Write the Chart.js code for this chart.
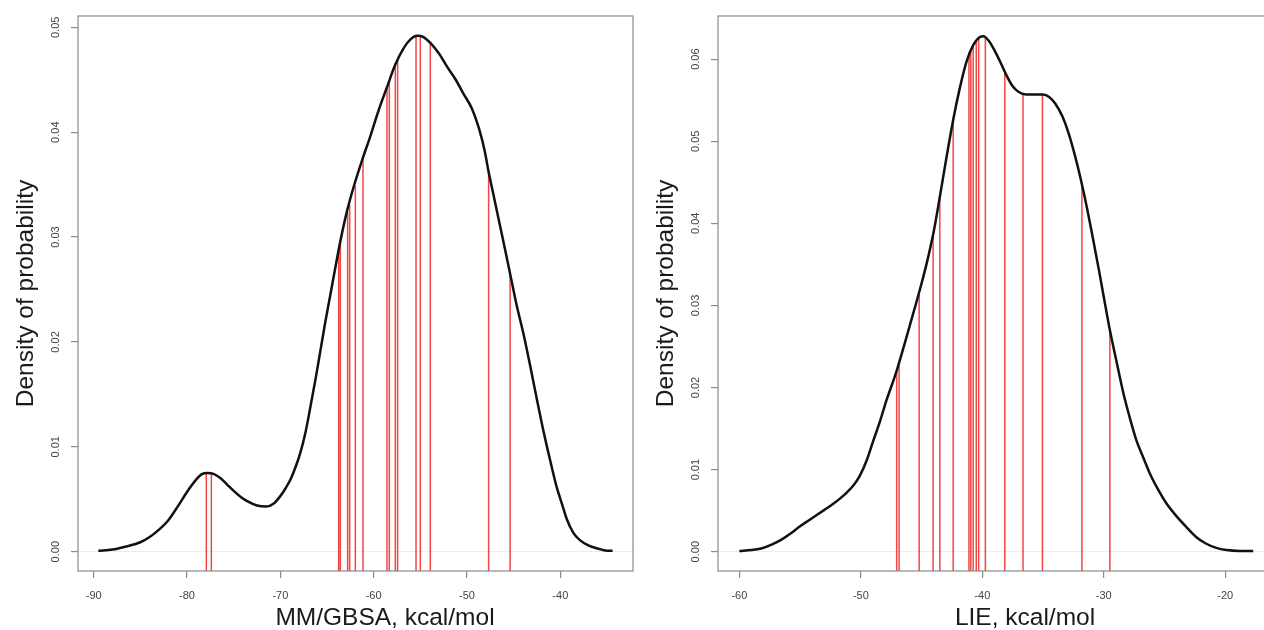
<!DOCTYPE html>
<html>
<head>
<meta charset="utf-8">
<title>Density of probability: MM/GBSA and LIE</title>
<script src="https://cdn.jsdelivr.net/npm/chart.js@4/dist/chart.umd.min.js"></script>
<style>
  html, body { margin: 0; padding: 0; background: #fff; overflow: hidden; }
  #wrap { position: relative; width: 1264px; height: 630px; overflow: hidden; }
  canvas { position: absolute; top: 0; }
  #left { left: 0; }
  #right { left: 640px; }
</style>
</head>
<body>
<div id="wrap">
  <canvas id="left" width="640" height="630"></canvas>
  <canvas id="right" width="640" height="630"></canvas>
</div>
<script>
// ---- MM/GBSA panel ----
const mmgbsaX = [-89.5, -88, -86.5, -85, -84, -83, -82, -81, -80, -79, -78.4, -77.8, -77.1, -76.4, -75.7, -75,
  -74.2, -73.5, -72.5, -71.5, -70.7, -70, -69.4, -68.9, -68.4, -67.9, -67.3, -66.8, -66.2, -65.7, -65.2, -64.6,
  -64, -63.5, -62.85, -62.14, -61.25, -60.36, -59.5, -58.57, -57.7, -56.8, -56, -55.35, -54.7, -53.9, -53, -52.1,
  -51.2, -50.4, -49.5, -48.6, -48.1, -47.7, -47.2, -46.8, -46.2, -45.4, -44.7, -43.9, -43.2, -42.5, -41.9,
  -41.4, -40.9, -40.4, -39.8, -39.3, -38.6, -37.9, -37, -36, -35, -34.4];
const mmgbsaDensity = [0.0001, 0.0002, 0.0005, 0.0009, 0.0014, 0.0021, 0.0030, 0.0043, 0.0057, 0.0069, 0.0074,
  0.0075, 0.0074, 0.0070, 0.0064, 0.0058, 0.0052, 0.0048, 0.0044, 0.0043, 0.0046, 0.0053, 0.0061, 0.0069,
  0.0080, 0.0093, 0.0114, 0.0137, 0.0166, 0.0192, 0.0218, 0.0247, 0.0276, 0.0299, 0.0325, 0.0348, 0.0373,
  0.0396, 0.0420, 0.0443, 0.0464, 0.0480, 0.0489, 0.0492, 0.0491, 0.0485, 0.0475, 0.0462, 0.0450, 0.0437,
  0.0423, 0.0400, 0.0382, 0.0363, 0.0342, 0.0325, 0.0300, 0.0266, 0.0236, 0.0206, 0.0176, 0.0145, 0.0119,
  0.0099, 0.0080, 0.0062, 0.0045, 0.0031, 0.0018, 0.0011, 0.0006, 0.0003, 0.0001, 0.0001];
const mmgbsaSamples = [-77.93, -77.39, -63.75, -63.57, -62.79, -62.57, -61.96, -61.14, -58.57, -58.32, -57.68,
  -57.43, -55.46, -55.0, -53.93, -47.68, -45.38];
const mmgbsaSampleHeights = [0.0075, 0.0075, 0.0287, 0.0296, 0.0324, 0.0331, 0.0349, 0.0374, 0.0443, 0.0449,
  0.0466, 0.0470, 0.0491, 0.0491, 0.0484, 0.0361, 0.0266];
const mmgbsaXTicks = [-90, -80, -70, -60, -50, -40];
const mmgbsaXTickLabels = ['-90', '-80', '-70', '-60', '-50', '-40'];
const mmgbsaYTicks = [0, 0.01, 0.02, 0.03, 0.04, 0.05];
const mmgbsaYTickLabels = ['0.00', '0.01', '0.02', '0.03', '0.04', '0.05'];
const mmgbsaXRange = [-91.68, -32.21];
const mmgbsaYRange = [-0.00184, 0.05108];

// ---- LIE panel ----
const lieX = [-60, -59, -58.2, -57.3, -56.5, -55.7, -55, -54.3, -53.6, -53, -52.3, -51.7, -51.1, -50.6, -50.1,
  -49.5, -49, -48.4, -47.9, -47.1, -46.5, -46, -45.2, -44.6, -44, -43.5, -43, -42.4, -41.85, -41.3,
  -40.75, -40.2, -39.9, -39.4, -38.9, -38.5, -38, -37.5, -37, -36.4, -35.7, -35, -34.5, -34, -33.4, -32.9,
  -32.4, -31.9, -31.4, -30.9, -30.4, -29.9, -29.5, -28.9, -28.4, -27.8, -27.3, -26.7, -26.2, -25.5, -24.85,
  -24, -23.2, -22.4, -21.6, -20.8, -19.9, -18.8, -17.7];
const lieDensity = [0.0001, 0.0002, 0.0004, 0.0009, 0.0015, 0.0023, 0.0031, 0.0038, 0.0045, 0.0051, 0.0058,
  0.0065, 0.0073, 0.0081, 0.0092, 0.0112, 0.0134, 0.0160, 0.0184, 0.0218, 0.0248, 0.0274, 0.0316, 0.0350,
  0.0390, 0.0432, 0.0476, 0.0526, 0.0565, 0.0597, 0.0617, 0.0627, 0.0628, 0.0621, 0.0608, 0.0596,
  0.0580, 0.0567, 0.0560, 0.0557, 0.0557, 0.0557, 0.0554, 0.0546, 0.0530, 0.0510, 0.0484, 0.0454, 0.0420,
  0.0382, 0.0343, 0.0302, 0.0270, 0.0228, 0.0194, 0.0160, 0.0135, 0.0113, 0.0095, 0.0075, 0.0059,
  0.0043, 0.0030, 0.0018, 0.0010, 0.0005, 0.0002, 0.0001, 0.0001];
const lieSamples = [-47.05, -46.85, -45.2, -44.05, -43.5, -42.4, -41.1, -40.95, -40.75, -40.5, -40.3, -39.75,
  -38.15, -36.65, -35.05, -31.8, -29.5];
const lieSampleHeights = [0.0220, 0.0227, 0.0316, 0.0386, 0.0432, 0.0526, 0.0606, 0.0611, 0.0617, 0.0622,
  0.0625, 0.0626, 0.0586, 0.0559, 0.0557, 0.0447, 0.0270];
const lieXTicks = [-60, -50, -40, -30, -20];
const lieXTickLabels = ['-60', '-50', '-40', '-30', '-20'];
const lieYTicks = [0, 0.01, 0.02, 0.03, 0.04, 0.05, 0.06];
const lieYTickLabels = ['0.00', '0.01', '0.02', '0.03', '0.04', '0.05', '0.06'];
const lieXRange = [-61.76, -16.07];
const lieYRange = [-0.00235, 0.065255];

const FONT = '"Liberation Sans", Arial, Helvetica, sans-serif';

// Box, tick labels and axis titles, placed from the chart's own scales.
const framePlugin = {
  id: 'frame',
  afterDraw(chart, args, opts) {
    const { ctx, chartArea: a } = chart;
    const xs = chart.scales.x, ys = chart.scales.y;
    ctx.save();
    ctx.strokeStyle = '#8a8a8a';
    ctx.lineWidth = 1.2;
    ctx.strokeRect(a.left, a.top, a.right - a.left, a.bottom - a.top);

    ctx.fillStyle = '#444';
    ctx.font = '11px ' + FONT;
    ctx.textAlign = 'center';
    ctx.textBaseline = 'alphabetic';
    opts.xTicks.forEach((v, i) => {
      ctx.fillText(opts.xLabels[i], xs.getPixelForValue(v), a.bottom + 28);
    });
    opts.yTicks.forEach((v, i) => {
      ctx.save();
      ctx.translate(a.left - 19, ys.getPixelForValue(v));
      ctx.rotate(-Math.PI / 2);
      ctx.fillText(opts.yLabels[i], 0, 0);
      ctx.restore();
    });

    ctx.fillStyle = '#1a1a1a';
    ctx.font = '24.5px ' + FONT;
    ctx.fillText(opts.xTitle, a.left + 307, a.bottom + 54);
    ctx.save();
    ctx.translate(a.left - 45, (a.top + a.bottom) / 2);
    ctx.rotate(-Math.PI / 2);
    ctx.fillText(opts.yTitle, 0, 0);
    ctx.restore();
    ctx.restore();
  }
};

function points(xs, ys) {
  return xs.map((x, i) => ({ x: x, y: ys[i] }));
}

function sampleSegments(xs, tops, floor) {
  const out = [];
  xs.forEach((x, i) => {
    out.push({ x: x, y: floor });
    out.push({ x: x, y: tops[i] });
    out.push({ x: x, y: null });
  });
  return out;
}

function makePanel(canvasId, cfg) {
  const tickFix = (list) => (scale) => { scale.ticks = list.map(v => ({ value: v })); };
  return new Chart(document.getElementById(canvasId), {
    type: 'line',
    data: {
      datasets: [
        {
          data: points(cfg.x, cfg.density),
          borderColor: '#111',
          borderWidth: 2.5,
          pointRadius: 0,
          cubicInterpolationMode: 'monotone',
          fill: false
        },
        {
          data: sampleSegments(cfg.samples, cfg.heights, cfg.yRange[0]),
          borderColor: 'rgba(238, 30, 30, 0.82)',
          borderWidth: 1.5,
          pointRadius: 0,
          spanGaps: false,
          tension: 0,
          fill: false
        },
        {
          data: [{ x: cfg.xRange[0], y: 0 }, { x: cfg.xRange[1], y: 0 }],
          borderColor: '#e8e8e8',
          borderWidth: 1,
          pointRadius: 0,
          fill: false
        }
      ]
    },
    options: {
      responsive: false,
      animation: false,
      events: [],
      layout: { padding: { left: 0, top: 16, right: 7, bottom: 0 } },
      plugins: {
        legend: { display: false },
        tooltip: { enabled: false },
        frame: {
          xTicks: cfg.xTicks, xLabels: cfg.xLabels,
          yTicks: cfg.yTicks, yLabels: cfg.yLabels,
          xTitle: cfg.xTitle, yTitle: 'Density of probability'
        }
      },
      scales: {
        x: {
          type: 'linear',
          min: cfg.xRange[0],
          max: cfg.xRange[1],
          afterBuildTicks: tickFix(cfg.xTicks),
          afterFit: (s) => { s.height = 59; },
          ticks: { display: false },
          border: { display: false },
          grid: { display: true, drawOnChartArea: false, drawTicks: true, tickLength: 7, color: '#8a8a8a', lineWidth: 1.2 }
        },
        y: {
          type: 'linear',
          min: cfg.yRange[0],
          max: cfg.yRange[1],
          afterBuildTicks: tickFix(cfg.yTicks),
          afterFit: (s) => { s.width = 78; },
          ticks: { display: false },
          border: { display: false },
          grid: { display: true, drawOnChartArea: false, drawTicks: true, tickLength: 7, color: '#8a8a8a', lineWidth: 1.2 }
        }
      }
    },
    plugins: [framePlugin]
  });
}

makePanel('left', {
  x: mmgbsaX, density: mmgbsaDensity,
  samples: mmgbsaSamples, heights: mmgbsaSampleHeights,
  xTicks: mmgbsaXTicks, xLabels: mmgbsaXTickLabels,
  yTicks: mmgbsaYTicks, yLabels: mmgbsaYTickLabels,
  xRange: mmgbsaXRange, yRange: mmgbsaYRange,
  xTitle: 'MM/GBSA, kcal/mol'
});

makePanel('right', {
  x: lieX, density: lieDensity,
  samples: lieSamples, heights: lieSampleHeights,
  xTicks: lieXTicks, xLabels: lieXTickLabels,
  yTicks: lieYTicks, yLabels: lieYTickLabels,
  xRange: lieXRange, yRange: lieYRange,
  xTitle: 'LIE, kcal/mol'
});
</script>
</body>
</html>
